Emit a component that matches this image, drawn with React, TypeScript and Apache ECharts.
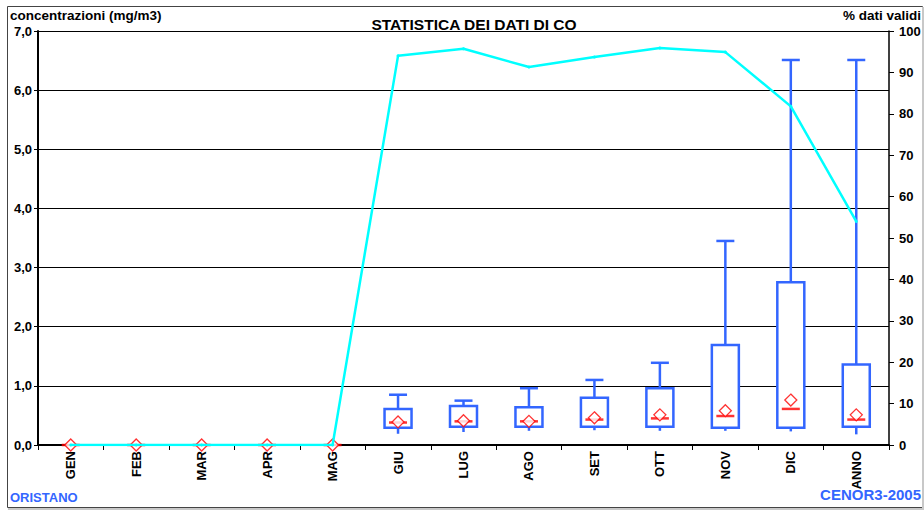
import React, { useEffect, useRef } from "react";
import * as echarts from "echarts";

const categories = ["GEN", "FEB", "MAR", "APR", "MAG", "GIU", "LUG", "AGO", "SET", "OTT", "NOV", "DIC", "ANNO"];
const minValues = [0, 0, 0, 0, 0, 0.19, 0.22, 0.24, 0.25, 0.24, 0.24, 0.23, 0.18];
const q1Values = [0, 0, 0, 0, 0, 0.29, 0.31, 0.31, 0.31, 0.31, 0.29, 0.29, 0.31];
const medianValues = [0, 0, 0, 0, 0, 0.38, 0.4, 0.4, 0.43, 0.45, 0.49, 0.61, 0.43];
const q3Values = [0, 0, 0, 0, 0, 0.61, 0.66, 0.64, 0.8, 0.96, 1.69, 2.75, 1.36];
const maxValues = [0, 0, 0, 0, 0, 0.85, 0.75, 0.96, 1.1, 1.39, 3.45, 6.51, 6.51];
const meanValues = [0, 0, 0, 0, 0, 0.39, 0.41, 0.4, 0.46, 0.51, 0.58, 0.76, 0.51];
const validPct = [0, 0, 0, 0, 0, 94.0, 95.7, 91.3, 93.7, 95.9, 94.9, 81.8, 54.0];
const leftTicks = [0, 1, 2, 3, 4, 5, 6, 7];

const BLUE = "#3366FF";
const FONT = "Liberation Sans, Arial, sans-serif";

export default function App() {
  const ref = useRef<HTMLDivElement>(null);
  useEffect(() => {
    if (!ref.current) return;
    const chart = echarts.init(ref.current, null, { renderer: "svg" });
    const boxData = categories.map((_, i) => [i, minValues[i], q1Values[i], q3Values[i], maxValues[i]]);
    const option: any = {
      animation: false,
      backgroundColor: "#ffffff",
      textStyle: { fontFamily: FONT },
      title: {
        text: "STATISTICA DEI DATI DI CO",
        left: 469,
        textAlign: "center",
        top: 11,
        textStyle: { fontFamily: FONT, fontSize: 15.5, fontWeight: "bold", color: "#000" },
      },
      grid: { left: 38, right: 35, top: 31, bottom: 66, containLabel: false },
      xAxis: {
        type: "category",
        data: categories,
        boundaryGap: true,
        axisLine: { lineStyle: { color: "#000", width: 2 } },
        axisTick: { show: true, interval: 0, length: 5, lineStyle: { color: "#000", width: 1 } },
        axisLabel: {
          interval: 0,
          rotate: 90,
          margin: 6,
          fontFamily: FONT,
          fontSize: 13,
          fontWeight: "bold",
          color: "#000",
        },
        splitLine: { show: false },
      },
      yAxis: [
        {
          type: "value",
          min: 0,
          max: 7,
          interval: 1,
          axisLine: { show: true, lineStyle: { color: "#000", width: 2 } },
          axisTick: { show: true, length: 4, lineStyle: { color: "#000" } },
          axisLabel: {
            margin: 6,
            fontFamily: FONT,
            fontSize: 13,
            fontWeight: "bold",
            color: "#000",
            formatter: (v: number) => (leftTicks.includes(v) ? v.toFixed(1).replace(".", ",") : ""),
          },
          splitLine: { show: true, lineStyle: { color: "#000", width: 1 } },
        },
        {
          type: "value",
          min: 0,
          max: 100,
          interval: 10,
          position: "right",
          axisLine: { show: true, lineStyle: { color: "#000", width: 1.5 } },
          axisTick: { show: true, length: 5, lineStyle: { color: "#000" } },
          axisLabel: {
            margin: 10,
            fontFamily: FONT,
            fontSize: 13,
            fontWeight: "bold",
            color: "#000",
          },
          splitLine: { show: false },
        },
      ],
      series: [
        {
          type: "custom",
          name: "box",
          z: 3,
          data: boxData,
          encode: { x: 0, y: [1, 2, 3, 4] },
          renderItem: (params: any, api: any) => {
            const idx = api.value(0);
            const vMin = api.value(1);
            const vQ1 = api.value(2);
            const vQ3 = api.value(3);
            const vMax = api.value(4);
            if (vMax === 0) return { type: "group", children: [] };
            const pMin = api.coord([idx, vMin]);
            const pQ1 = api.coord([idx, vQ1]);
            const pQ3 = api.coord([idx, vQ3]);
            const pMax = api.coord([idx, vMax]);
            const x = pMin[0];
            const halfBox = 13.5;
            const halfCap = 9;
            const ls = { stroke: BLUE, lineWidth: 2.5, fill: "none" };
            return {
              type: "group",
              children: [
                { type: "line", shape: { x1: x, y1: pMin[1], x2: x, y2: pQ1[1] }, style: ls },
                { type: "line", shape: { x1: x, y1: pQ3[1], x2: x, y2: pMax[1] }, style: ls },
                { type: "line", shape: { x1: x - halfCap, y1: pMax[1], x2: x + halfCap, y2: pMax[1] }, style: ls },
                {
                  type: "rect",
                  shape: { x: x - halfBox, y: pQ3[1], width: halfBox * 2, height: pQ1[1] - pQ3[1] },
                  style: { stroke: BLUE, lineWidth: 2.5, fill: "#fff" },
                },
              ],
            };
          },
        },
        {
          type: "scatter",
          name: "mediana",
          z: 4,
          data: medianValues,
          symbol: "rect",
          symbolSize: [18, 2.5],
          itemStyle: { color: "#FF0000" },
        },
        {
          type: "scatter",
          name: "media",
          z: 5,
          data: meanValues,
          symbol: "diamond",
          symbolSize: [12, 12],
          itemStyle: { color: "#ffffff", borderColor: "#FF0000", borderWidth: 1.3 },
        },
        {
          type: "line",
          name: "% dati validi",
          yAxisIndex: 1,
          z: 6,
          data: validPct,
          symbol: "circle",
          symbolSize: 3,
          itemStyle: { color: "#00FFFF" },
          lineStyle: { color: "#00FFFF", width: 2.5 },
        },
      ],
      graphic: [
        {
          type: "rect",
          shape: { x: 7.5, y: 6.5, width: 915, height: 501 },
          style: { fill: "none", stroke: "#444", lineWidth: 1 },
          silent: true,
        },
        {
          type: "line",
          shape: { x1: 923, y1: 7, x2: 923, y2: 509 },
          style: { stroke: "#c8c8c8", lineWidth: 2 },
        },
        {
          type: "line",
          shape: { x1: 8, y1: 509, x2: 924, y2: 509 },
          style: { stroke: "#c8c8c8", lineWidth: 2 },
        },
        {
          type: "text",
          left: 10,
          top: 8,
          style: { text: "concentrazioni (mg/m3)", font: "bold 13.5px " + FONT, fill: "#000" },
        },
        {
          type: "text",
          right: 3,
          top: 8,
          style: { text: "% dati validi", font: "bold 13.5px " + FONT, fill: "#000" },
        },
        {
          type: "text",
          left: 10,
          top: 491,
          style: { text: "ORISTANO", font: "bold 13px " + FONT, fill: BLUE },
        },
        {
          type: "text",
          right: 3,
          top: 487,
          style: { text: "CENOR3-2005", font: "bold 15px " + FONT, fill: BLUE },
        },
      ],
    };
    chart.setOption(option);
    return () => chart.dispose();
  }, []);
  return (
    <div
      ref={ref}
      style={{ position: "absolute", left: 0, top: 0, width: 924, height: 511 }}
    />
  );
}
